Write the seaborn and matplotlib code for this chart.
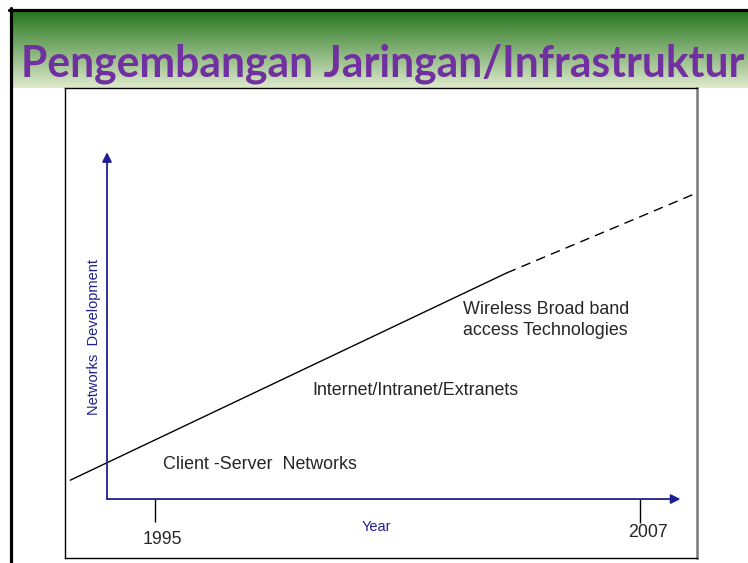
import numpy as np
import pandas as pd
import matplotlib
matplotlib.use("Agg")
import matplotlib.pyplot as plt
from matplotlib.lines import Line2D
import seaborn as sns

# data: network development trend (arbitrary units) against year
trend_years = [1992.9, 2003.7]
trend_level = [5.4, 64.8]
future_years = [2003.7, 2008.4]
future_level = [64.8, 87.7]

tick_years = [1995, 2007]
tick_labels = ["1995", "2007"]

era_labels = ["Client -Server  Networks",
              "Internet/Intranet/Extranets",
              "Wireless Broad band\naccess Technologies"]

TITLE = "Pengembangan Jaringan/Infrastruktur"
AXIS_BLUE = "#1f1f8f"
PURPLE = "#7030a0"

sns.set_style("white")
plt.rcParams["font.family"] = ["Liberation Sans", "DejaVu Sans"]

W, H = 748, 563
fig = plt.figure(figsize=(W / 100, H / 100), dpi=100)
fig.patch.set_facecolor("white")

# green gradient header
hdr = fig.add_axes([12 / W, 1 - 88 / H, 1 - 12 / W, 77 / H])
top = np.array([38, 118, 30]) / 255
bot = np.array([222, 234, 204]) / 255
t = np.linspace(0, 1, 100)[:, None]
grad = (top * (1 - t) + bot * t)[:, None, :]
hdr.imshow(grad, aspect="auto", extent=[0, 1, 0, 1])
hdr.set_axis_off()

title = fig.text(383 / W, 1 - 77 / H, TITLE, ha="center", va="baseline",
                 fontsize=30, fontweight="bold", color=PURPLE,
                 family=["Lato", "DejaVu Sans"])
# fit the title to the width it has on the slide
renderer = fig.canvas.get_renderer()
wpx = title.get_window_extent(renderer).width
title.set_fontsize(30 * 723 / wpx)

# slide border
fig.add_artist(Line2D([9 / W, 1], [1 - 9.5 / H] * 2, color="black", lw=2.3))
fig.add_artist(Line2D([10.5 / W] * 2, [0, 1 - 8 / H], color="black", lw=2.3))

# chart box
ax = fig.add_axes([65 / W, 1 - 558 / H, (697 - 65) / W, (558 - 88) / H])
ax.set_xlim(1992.77, 2008.41)
ax.set_ylim(-16.9, 117.8)
ax.set_xticks([])
ax.set_yticks([])
for side in ["left", "top", "bottom"]:
    ax.spines[side].set_color("black")
    ax.spines[side].set_linewidth(1.0)
ax.spines["right"].set_color("#7a7a7a")
ax.spines["right"].set_linewidth(1.8)

# trend lines
trend = pd.DataFrame({"year": trend_years, "level": trend_level})
future = pd.DataFrame({"year": future_years, "level": future_level})
sns.lineplot(data=trend, x="year", y="level", color="black", lw=1.0, ax=ax)
sns.lineplot(data=future, x="year", y="level", color="black", lw=1.0, ax=ax,
             linestyle=(0, (7, 4.5)))
ax.set_xlabel("")
ax.set_ylabel("")

# hand-drawn axes with arrows
x0, y0 = 1993.81, 0
ax.annotate("", xy=(x0, 99.4), xytext=(x0, y0),
            arrowprops=dict(arrowstyle="-|>", color=AXIS_BLUE, lw=1.3,
                            mutation_scale=14, shrinkA=0, shrinkB=0))
ax.annotate("", xy=(2008.0, y0), xytext=(x0, y0),
            arrowprops=dict(arrowstyle="-|>", color=AXIS_BLUE, lw=1.3,
                            mutation_scale=14, shrinkA=0, shrinkB=0))

# year ticks
ax.vlines(tick_years, [-6.6, -6.9], 0, color="black", lw=1.0)
ax.text(tick_years[0] + 0.19, -11.7, tick_labels[0], ha="center", va="center", fontsize=12.8)
ax.text(tick_years[1] + 0.19, -9.7, tick_labels[1], ha="center", va="center", fontsize=12.8)

ax.text(2000.47, -8.0, "Year", ha="center", va="center", fontsize=10.5, color=AXIS_BLUE)
ax.text(1993.49, 46.4, "Networks  Development", ha="center", va="center",
        rotation=90, fontsize=10.5, color=AXIS_BLUE)

# era labels
ax.text(1995.2, 10.0, era_labels[0], ha="left", va="center", fontsize=12.9)
ax.text(1998.88, 31.2, era_labels[1], ha="left", va="center", fontsize=12.9)
ax.text(2002.62, 51.3, era_labels[2], ha="left", va="center", fontsize=12.9,
        linespacing=1.3)

fig.savefig("out.png", dpi=100)
